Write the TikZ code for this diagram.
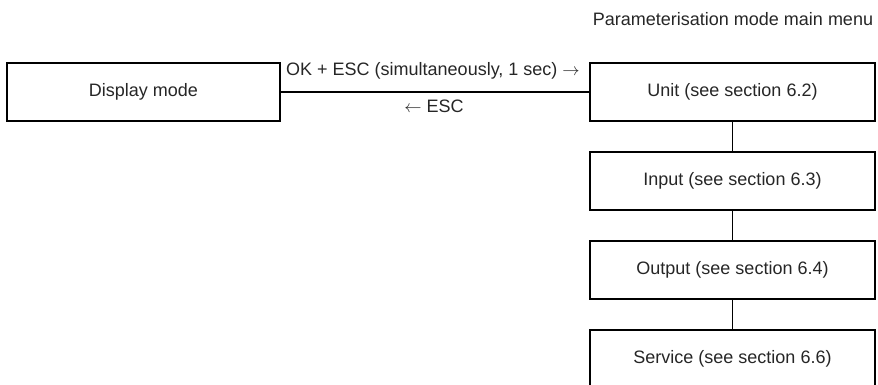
\documentclass[tikz,border=0pt]{standalone}
\usepackage{fontspec}
\setmainfont{Liberation Sans}
\begin{document}
\begin{tikzpicture}[x=1pt,y=-1pt,
  box/.style={draw=black, line width=2.8pt, minimum height=58pt, inner sep=0pt,
              font=\fontsize{18}{21}\selectfont, text=black!85},
  leftbox/.style={box, minimum width=273pt},
  menubox/.style={box, minimum width=285pt},
  conn/.style={draw=black, line width=1.8pt},
  lbl/.style={inner sep=0pt, font=\fontsize{18}{21}\selectfont, text=black!85}]
\useasboundingbox (0,0) rectangle (878,385);
\clip (0,0) rectangle (878,385);
\node[lbl] (title) at (733,19) {Parameterisation mode main menu};
\node[leftbox] (disp) at (143.5,92) {Display mode};
\node[menubox] (unit) at (732.5,92) {Unit (see section 6.2)};
\node[menubox] (input) at (732.5,181) {Input (see section 6.3)};
\node[menubox] (output) at (732.5,270) {Output (see section 6.4)};
\node[menubox] (service) at (732.5,359) {Service (see section 6.6)};
\draw[conn] (disp.east) -- (unit.west);
\draw[conn] (unit) -- (input);
\draw[conn] (input) -- (output);
\draw[conn] (output) -- (service);
\node[lbl, anchor=west] (okesc) at (286,71) {OK + ESC (simultaneously, 1 sec) $\rightarrow$};
\node[lbl] (esc) at (434,106) {$\leftarrow$ ESC};
\end{tikzpicture}
\end{document}
